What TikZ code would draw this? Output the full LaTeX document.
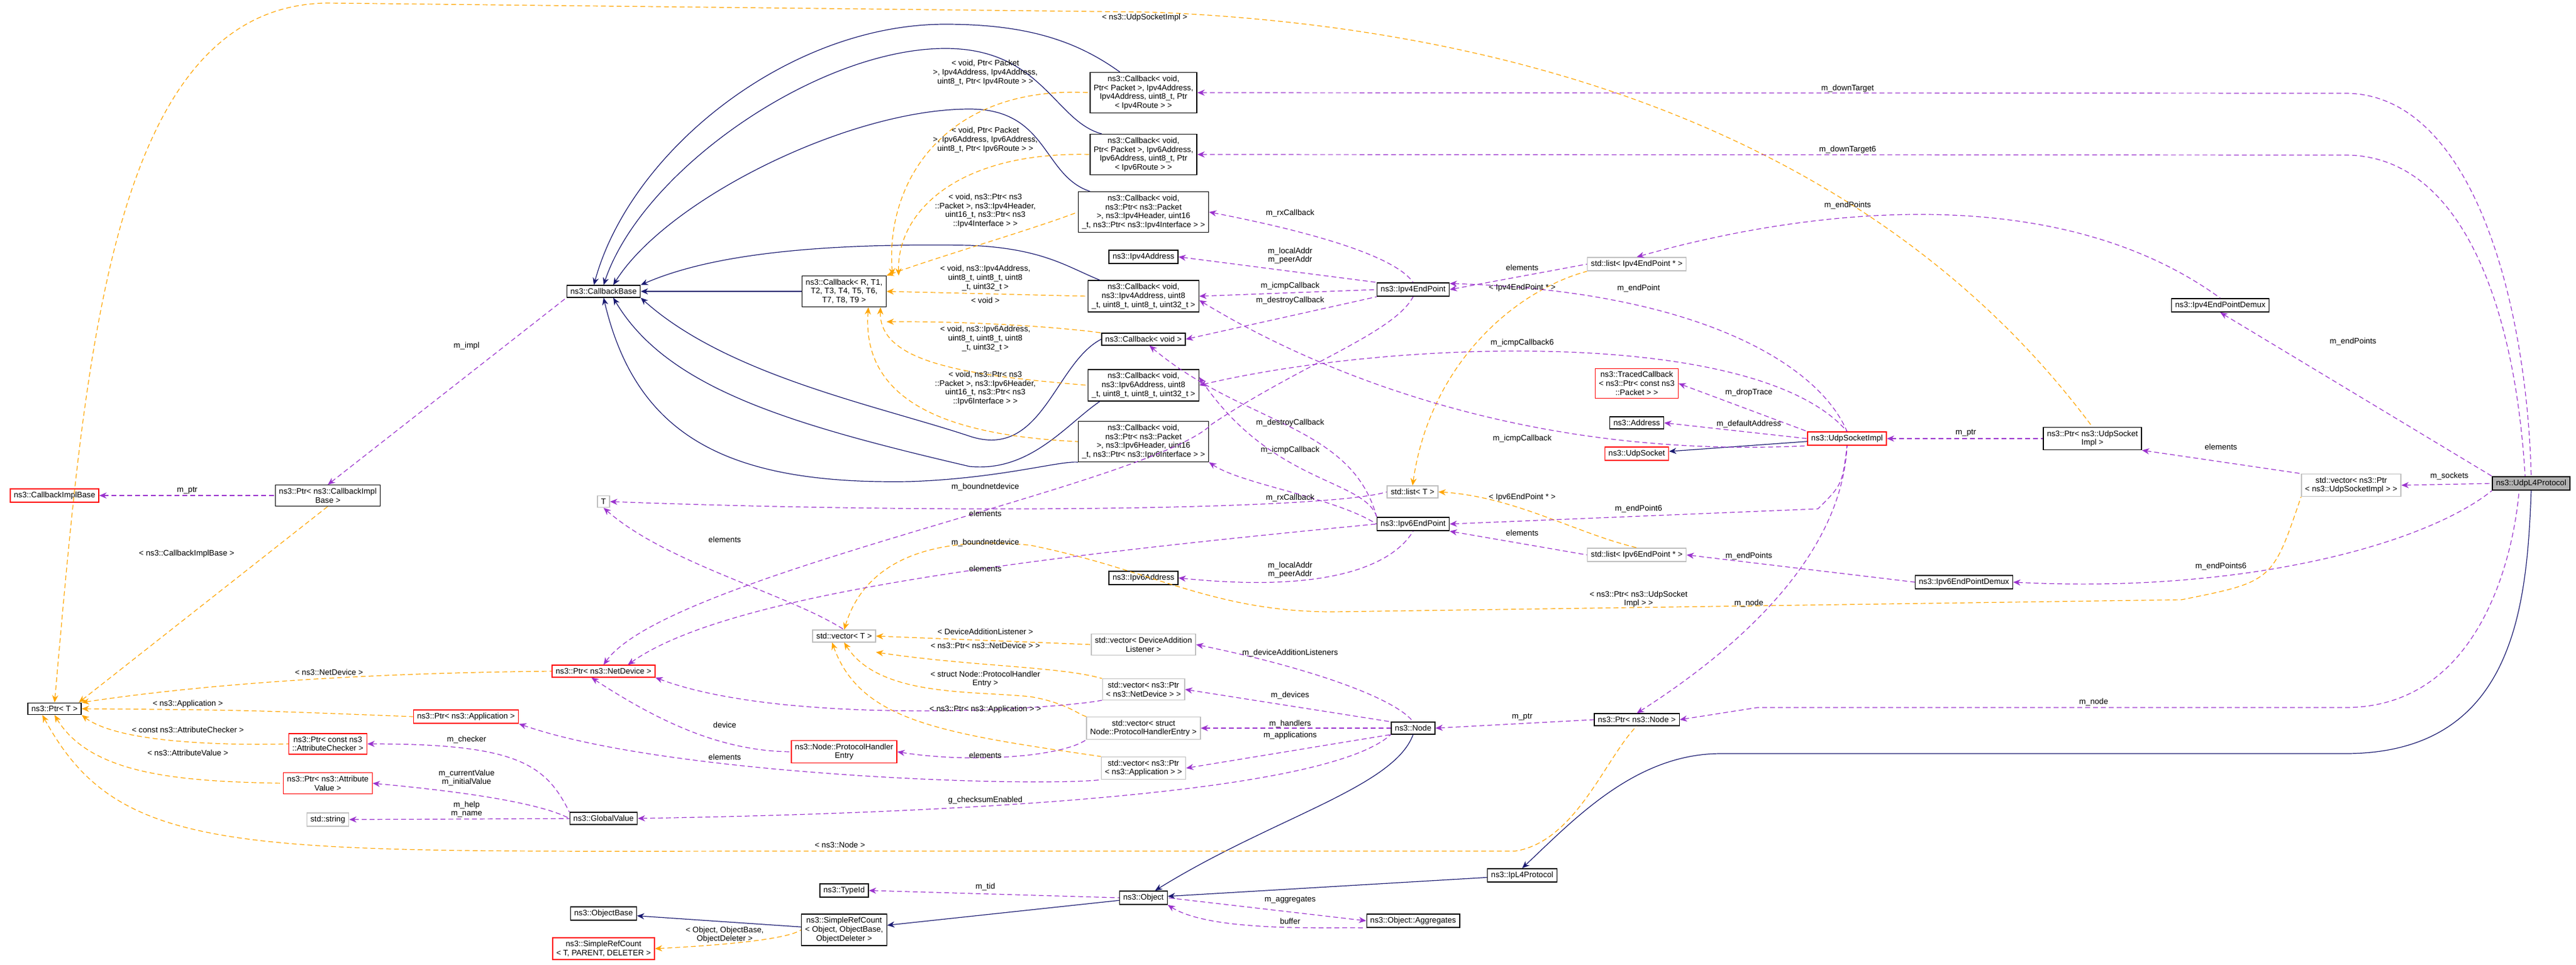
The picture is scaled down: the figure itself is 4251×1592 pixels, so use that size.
\documentclass[tikz,border=0pt]{standalone}
\usepackage{fontspec}
\setmainfont{Liberation Sans}
\usetikzlibrary{arrows.meta}
\definecolor{navy}{HTML}{191970}
\definecolor{purp}{HTML}{9A32CD}
\definecolor{orng}{HTML}{FFA500}
\definecolor{grayb}{HTML}{BFBFBF}
\tikzset{
 box/.style={draw=black,line width=0.7pt,fill=white,align=center,inner xsep=3pt,inner ysep=2.5pt,font=\fontsize{6.6}{7.4}\selectfont},
 rbox/.style={box,draw=red},
 gbox/.style={box,draw=grayb},
 lbl/.style={align=center,font=\fontsize{6.6}{7.4}\selectfont,inner sep=1pt},
 inh/.style={draw=navy,line width=0.6pt,{Stealth[length=6pt,width=5pt]}-},
 use/.style={draw=purp,line width=0.6pt,dash pattern=on 4pt off 2.5pt,{Stealth[length=6pt,width=5pt]}-},
 tmpl/.style={draw=orng,line width=0.6pt,dash pattern=on 4pt off 2.5pt,{Stealth[length=6pt,width=5pt]}-}
}
\begin{document}
\begin{tikzpicture}[x=0.5pt,y=-0.5pt]
\useasboundingbox (0,0) rectangle (4251,1592);
% nodes
\node[box] (cbb) at (996,481) {ns3::CallbackBase};
\node[box] (cbt) at (1393,481) {ns3::Callback< R, T1,\\ T2, T3, T4, T5, T6,\\ T7, T8, T9 >};
\node[box] (pcib) at (541,818) {ns3::Ptr< ns3::CallbackImpl\\Base >};
\node[rbox] (cib) at (90,818) {ns3::CallbackImplBase};
\node[box] (pt) at (90,1170) {ns3::Ptr< T >};
\node[rbox] (pnd) at (996,1108) {ns3::Ptr< ns3::NetDevice >};
\node[rbox] (papp) at (769,1183) {ns3::Ptr< ns3::Application >};
\node[rbox] (pchk) at (541,1228) {ns3::Ptr< const ns3\\::AttributeChecker >};
\node[rbox] (pav) at (541,1293) {ns3::Ptr< ns3::Attribute\\Value >};
\node[gbox] (str) at (541,1353) {std::string};
\node[box] (gv) at (996,1351) {ns3::GlobalValue};
\node[gbox] (tT) at (996,828) {T};
\node[box] (ob) at (996,1508) {ns3::ObjectBase};
\node[rbox] (srt) at (996,1566) {ns3::SimpleRefCount\\< T, PARENT, DELETER >};
\node[gbox] (vT) at (1393,1050) {std::vector< T >};
\node[rbox] (phe) at (1393,1241) {ns3::Node::ProtocolHandler\\Entry};
\node[box] (tid) at (1393,1470) {ns3::TypeId};
\node[box] (sro) at (1393,1535) {ns3::SimpleRefCount\\< Object, ObjectBase,\\ ObjectDeleter >};
\node[gbox] (lT) at (2331,812) {std::list< T >};
\node[box] (ep6) at (2332,865) {ns3::Ipv6EndPoint};
\node[gbox] (l6) at (2701,916) {std::list< Ipv6EndPoint * >};
\node[box] (a6) at (1887,954) {ns3::Ipv6Address};
\node[gbox] (vdal) at (1887,1064) {std::vector< DeviceAddition\\Listener >};
\node[gbox] (vnd) at (1887,1138) {std::vector< ns3::Ptr\\< ns3::NetDevice > >};
\node[gbox] (vphe) at (1887,1202) {std::vector< struct\\ Node::ProtocolHandlerEntry >};
\node[gbox] (vapp) at (1887,1268) {std::vector< ns3::Ptr\\< ns3::Application > >};
\node[box] (node) at (2332,1202) {ns3::Node};
\node[box] (pnode) at (2701,1188) {ns3::Ptr< ns3::Node >};
\node[box] (obj) at (1887,1482) {ns3::Object};
\node[box] (agg) at (2332,1520) {ns3::Object::Aggregates};
\node[box] (il4) at (2512,1445) {ns3::IpL4Protocol};
\node[box] (cb1) at (1887,153) {ns3::Callback< void,\\ Ptr< Packet >, Ipv4Address,\\ Ipv4Address, uint8\_t, Ptr\\< Ipv4Route > >};
\node[box] (cb2) at (1887,255) {ns3::Callback< void,\\ Ptr< Packet >, Ipv6Address,\\ Ipv6Address, uint8\_t, Ptr\\< Ipv6Route > >};
\node[box] (cb3) at (1887,350) {ns3::Callback< void,\\ ns3::Ptr< ns3::Packet\\ >, ns3::Ipv4Header, uint16\\\_t, ns3::Ptr< ns3::Ipv4Interface > >};
\node[box] (a4) at (1887,424) {ns3::Ipv4Address};
\node[box] (cb4) at (1887,489) {ns3::Callback< void,\\ ns3::Ipv4Address, uint8\\\_t, uint8\_t, uint8\_t, uint32\_t >};
\node[box] (cbv) at (1887,560) {ns3::Callback< void >};
\node[box] (cb6) at (1887,636) {ns3::Callback< void,\\ ns3::Ipv6Address, uint8\\\_t, uint8\_t, uint8\_t, uint32\_t >};
\node[box] (cb7) at (1887,729) {ns3::Callback< void,\\ ns3::Ptr< ns3::Packet\\ >, ns3::Ipv6Header, uint16\\\_t, ns3::Ptr< ns3::Ipv6Interface > >};
\node[box] (ep4) at (2332,478) {ns3::Ipv4EndPoint};
\node[gbox] (l4) at (2701,436) {std::list< Ipv4EndPoint * >};
\node[rbox] (tc) at (2701,633) {ns3::TracedCallback\\< ns3::Ptr< const ns3\\::Packet > >};
\node[box] (addr) at (2701,698) {ns3::Address};
\node[rbox] (us) at (2701,749) {ns3::UdpSocket};
\node[box] (d4) at (3664,504) {ns3::Ipv4EndPointDemux};
\node[rbox] (usi) at (3048,724) {ns3::UdpSocketImpl};
\node[box] (pus) at (3453,724) {ns3::Ptr< ns3::UdpSocket\\Impl >};
\node[box] (d6) at (3241,961) {ns3::Ipv6EndPointDemux};
\node[gbox] (vus) at (3880,801) {std::vector< ns3::Ptr\\< ns3::UdpSocketImpl > >};
\node[box,fill=black!30] (udp) at (4177,798) {ns3::UdpL4Protocol};

% inheritance
\draw[inh] (cbb) -- (cbt);
\draw[inh] ([xshift=-8]cbb.north) .. controls (1040,250) and (1300,40) .. (1560,40) .. controls (1700,40) and (1780,70) .. ([xshift=25]cb1.north west);
\draw[inh] (cbb.north) .. controls (1060,280) and (1350,80) .. (1560,80) .. controls (1720,80) and (1740,200) .. ([xshift=10]cb2.north west);
\draw[inh] ([xshift=8]cbb.north) .. controls (1100,330) and (1400,180) .. (1600,180) .. controls (1730,180) and (1720,290) .. ([xshift=10]cb3.north west);
\draw[inh] (cbb.north east) .. controls (1150,430) and (1300,400) .. (1600,405) .. controls (1720,410) and (1760,440) .. ([xshift=10]cb4.north west);
\draw[inh] (cbb.south east) .. controls (1200,620) and (1450,670) .. (1600,720) .. controls (1720,760) and (1740,600) .. (cbv.west);
\draw[inh] ([xshift=8]cbb.south) .. controls (1100,640) and (1300,700) .. (1600,770) .. controls (1700,780) and (1760,700) .. ([xshift=10]cb6.south west);
\draw[inh] (cbb.south) .. controls (1050,720) and (1200,800) .. (1500,795) .. controls (1650,790) and (1750,760) .. (cb7.south west);
\draw[inh] (ob) -- (sro);
\draw[inh] (sro) -- (obj);
\draw[inh] (obj) .. controls (2100,1350) and (2300,1300) .. (node.south);
\draw[inh] (obj) -- (il4);
\draw[inh] (il4.north) .. controls (2600,1350) and (2700,1244) .. (2840,1244) -- (3870,1244) .. controls (4150,1244) and (4170,1000) .. (udp.south);
\draw[inh] (us) -- (usi);

% template instantiation
\draw[tmpl] ([xshift=40]cbt.north) .. controls (1460,300) and (1560,140) .. (cb1.west);
\draw[tmpl] ([xshift=45]cbt.north) .. controls (1480,350) and (1580,250) .. (cb2.west);
\draw[tmpl] (cbt.north east) .. controls (1560,420) and (1700,380) .. (cb3.west);
\draw[tmpl] (cbt.east) -- (cb4.west);
\draw[tmpl] ([yshift=-12]cbt.south east) .. controls (1600,530) and (1750,540) .. (cbv.north west);
\draw[tmpl] ([xshift=30]cbt.south) .. controls (1450,600) and (1600,620) .. (cb6.west);
\draw[tmpl] ([xshift=20]cbt.south) .. controls (1420,680) and (1600,720) .. (cb7.west);
\draw[tmpl] (pt.north) .. controls (140,600) and (180,10) .. (540,5) -- (1900,20) .. controls (2900,60) and (3300,500) .. (pus.north);
\draw[tmpl] ([xshift=20]pt.north) -- (pcib.south);
\draw[tmpl] (pt.north east) .. controls (400,1120) and (700,1110) .. (pnd.west);
\draw[tmpl] (pt.east) .. controls (400,1172) .. (papp.west);
\draw[tmpl] (pt.south east) .. controls (200,1230) and (400,1230) .. (pchk.west);
\draw[tmpl] (pt.south) .. controls (150,1280) and (300,1290) .. (pav.west);
\draw[tmpl] ([xshift=-10]pt.south) .. controls (200,1420) and (400,1405) .. (1300,1405) -- (2500,1405) .. controls (2600,1390) and (2650,1250) .. (pnode.south);
\draw[tmpl] (vT.north) .. controls (1420,950) and (1500,880) .. (1700,900) .. controls (1900,940) and (2000,1010) .. (2200,1010) -- (3600,990) .. controls (3750,960) .. (vus.south west);
\draw[tmpl] (vT.east) -- (vdal.west);
\draw[tmpl] ([yshift=-8]vT.south east) .. controls (1600,1100) and (1750,1100) .. (vnd.north west);
\draw[tmpl] (vT.south) .. controls (1450,1150) and (1600,1140) .. (1700,1150) .. controls (1760,1160) and (1780,1180) .. (vphe.north west);
\draw[tmpl] ([xshift=-10]vT.south) .. controls (1420,1190) and (1550,1210) .. (vapp.north west);
\draw[tmpl] (lT.north) .. controls (2360,600) and (2500,480) .. (l4.south west);
\draw[tmpl] (lT.east) .. controls (2500,820) and (2600,880) .. (l6.north);
\draw[tmpl] (srt.east) .. controls (1200,1560) and (1300,1550) .. (sro.west);

% usage
\draw[use] (cib) -- (pcib);
\draw[use] (pcib.north) -- (cbb.south west);
\draw[use] (tT.east) .. controls (1600,850) and (2200,840) .. (lT.west);
\draw[use] (tT.south) .. controls (1100,930) and (1300,980) .. (vT.north);
\draw[use] (pnd.north) .. controls (1100,950) and (1900,800) .. (2000,700) .. controls (2150,600) and (2300,550) .. (ep4.south);
\draw[use] ([xshift=20]pnd.north) .. controls (1200,980) and (1700,920) .. (ep6.west);
\draw[use] (pnd.south east) .. controls (1300,1200) and (1750,1170) .. (vnd.south west);
\draw[use] ([xshift=-10]pnd.south) .. controls (1100,1200) and (1200,1240) .. (phe.west);
\draw[use] (papp.south east) .. controls (1100,1280) and (1700,1300) .. (vapp.south west);
\draw[use] (phe.east) .. controls (1600,1260) and (1750,1250) .. (vphe.south west);
\draw[use] (pchk.east) .. controls (850,1228) and (900,1260) .. (gv.north west);
\draw[use] (pav.east) .. controls (800,1310) and (900,1330) .. (gv.west);
\draw[use] (str) -- (gv);
\draw[use] (gv.east) .. controls (1700,1340) and (2200,1300) .. (node.south west);
\draw[use] (cb1.east) -- (3870,154) .. controls (4080,154) and (4170,500) .. (udp.north);
\draw[use] (cb2.east) -- (3870,256) .. controls (4060,256) and (4150,500) .. ([xshift=-5]udp.north);
\draw[use] (cb3.east) .. controls (2150,380) and (2300,420) .. (ep4.north);
\draw[use] (a4.east) -- (ep4.north west);
\draw[use] (cb4.east) -- (ep4.west);
\draw[use] (cbv.east) -- (ep4.south west);
\draw[use] ([yshift=10]cb4.south east) .. controls (2150,600) and (2500,760) .. (usi.south west);
\draw[use] (cb6.east) .. controls (2300,560) and (2900,540) .. (usi.north);
\draw[use] ([xshift=-30]cbv.south east) .. controls (2050,700) and (2230,700) .. (ep6.north west);
\draw[use] (cb7.south east) .. controls (2050,800) and (2200,820) .. (ep6.west);
\draw[use] ([yshift=20]cb6.south east) .. controls (2100,800) and (2250,790) .. ([xshift=-30]ep6.north);
\draw[use] (a6.east) .. controls (2200,980) and (2300,930) .. (ep6.south);
\draw[use] (ep4.east) -- (l4.west);
\draw[use] ([yshift=5]ep4.east) .. controls (2800,480) and (3000,600) .. (usi.north);
\draw[use] (ep6.east) -- (3000,840) .. controls (3040,800) .. (usi.south);
\draw[use] (ep6.south east) -- (l6.west);
\draw[use] (l4.north) .. controls (3000,340) and (3400,300) .. (d4.north);
\draw[use] (l6.east) -- (d6.west);
\draw[use] (d4.south) -- (udp.north west);
\draw[use] (d6.east) .. controls (3700,980) and (4000,900) .. (udp.south west);
\draw[use] (tc.east) -- (usi.north west);
\draw[use] (addr.east) -- (usi.west);
\draw[use] (pnode.north) .. controls (2900,1050) and (3040,900) .. (usi.south);
\draw[use] (pnode.east) -- (2900,1168) -- (3870,1168) .. controls (4100,1168) and (4150,900) .. ([xshift=-10]udp.south);
\draw[use] (node.east) -- (pnode.west);
\draw[use] (usi.east) -- (pus.west);
\draw[use] (pus.south east) -- (vus.north west);
\draw[use] (vus.east) -- (udp.west);
\draw[use] (vdal.east) .. controls (2150,1100) and (2300,1150) .. (node.north);
\draw[use] (vnd.east) -- (node.north west);
\draw[use] (vphe.east) -- (node.west);
\draw[use] (vapp.east) -- (node.south west);
\draw[use] (tid.east) -- (obj.west);
\draw[use] (agg.west) -- (obj.east);
\draw[use] (obj.south east) .. controls (2000,1540) and (2200,1530) .. (agg.south west);

% labels
\node[lbl] at (770,571) {m\_impl};
\node[lbl] at (309,810) {m\_ptr};
\node[lbl] at (308,914) {< ns3::CallbackImplBase >};
\node[lbl] at (543,1110) {< ns3::NetDevice >};
\node[lbl] at (310,1162) {< ns3::Application >};
\node[lbl] at (310,1205) {< const ns3::AttributeChecker >};
\node[lbl] at (310,1243) {< ns3::AttributeValue >};
\node[lbl] at (770,1221) {m\_checker};
\node[lbl] at (770,1284) {m\_currentValue\\m\_initialValue};
\node[lbl] at (770,1336) {m\_help\\m\_name};
\node[lbl] at (1196,891) {elements};
\node[lbl] at (1196,1197) {device};
\node[lbl] at (1196,1250) {elements};
\node[lbl] at (1196,1543) {< Object, ObjectBase,\\ ObjectDeleter >};
\node[lbl] at (1386,1395) {< ns3::Node >};
\node[lbl] at (1889,29) {< ns3::UdpSocketImpl >};
\node[lbl] at (1626,120) {< void, Ptr< Packet\\ >, Ipv4Address, Ipv4Address,\\ uint8\_t, Ptr< Ipv4Route > >};
\node[lbl] at (1626,231) {< void, Ptr< Packet\\ >, Ipv6Address, Ipv6Address,\\ uint8\_t, Ptr< Ipv6Route > >};
\node[lbl] at (1626,348) {< void, ns3::Ptr< ns3\\::Packet >, ns3::Ipv4Header,\\ uint16\_t, ns3::Ptr< ns3\\::Ipv4Interface > >};
\node[lbl] at (1626,459) {< void, ns3::Ipv4Address,\\ uint8\_t, uint8\_t, uint8\\\_t, uint32\_t >};
\node[lbl] at (1626,496) {< void >};
\node[lbl] at (1626,559) {< void, ns3::Ipv6Address,\\ uint8\_t, uint8\_t, uint8\\\_t, uint32\_t >};
\node[lbl] at (1626,641) {< void, ns3::Ptr< ns3\\::Packet >, ns3::Ipv6Header,\\ uint16\_t, ns3::Ptr< ns3\\::Ipv6Interface > >};
\node[lbl] at (2129,352) {m\_rxCallback};
\node[lbl] at (2129,422) {m\_localAddr\\m\_peerAddr};
\node[lbl] at (2512,442) {elements};
\node[lbl] at (2129,472) {m\_icmpCallback};
\node[lbl] at (2512,475) {< Ipv4EndPoint * >};
\node[lbl] at (2704,476) {m\_endPoint};
\node[lbl] at (2129,496) {m\_destroyCallback};
\node[lbl] at (2512,566) {m\_icmpCallback6};
\node[lbl] at (2129,698) {m\_destroyCallback};
\node[lbl] at (2129,743) {m\_icmpCallback};
\node[lbl] at (2512,724) {m\_icmpCallback};
\node[lbl] at (3049,146) {m\_downTarget};
\node[lbl] at (3049,247) {m\_downTarget6};
\node[lbl] at (3049,339) {m\_endPoints};
\node[lbl] at (3883,564) {m\_endPoints};
\node[lbl] at (3244,715) {m\_ptr};
\node[lbl] at (3665,738) {elements};
\node[lbl] at (2886,648) {m\_dropTrace};
\node[lbl] at (2886,700) {m\_defaultAddress};
\node[lbl] at (4042,786) {m\_sockets};
\node[lbl] at (2886,918) {m\_endPoints};
\node[lbl] at (3665,935) {m\_endPoints6};
\node[lbl] at (2886,996) {m\_node};
\node[lbl] at (3455,1159) {m\_node};
\node[lbl] at (2704,989) {< ns3::Ptr< ns3::UdpSocket\\Impl > >};
\node[lbl] at (2512,821) {< Ipv6EndPoint * >};
\node[lbl] at (2704,840) {m\_endPoint6};
\node[lbl] at (2512,880) {elements};
\node[lbl] at (2129,941) {m\_localAddr\\m\_peerAddr};
\node[lbl] at (2129,822) {m\_rxCallback};
\node[lbl] at (1626,804) {m\_boundnetdevice};
\node[lbl] at (1626,848) {elements};
\node[lbl] at (1626,896) {m\_boundnetdevice};
\node[lbl] at (1626,939) {elements};
\node[lbl] at (1626,1043) {< DeviceAdditionListener >};
\node[lbl] at (1626,1066) {< ns3::Ptr< ns3::NetDevice > >};
\node[lbl] at (1626,1121) {< struct Node::ProtocolHandler\\Entry >};
\node[lbl] at (1626,1171) {< ns3::Ptr< ns3::Application > >};
\node[lbl] at (1626,1247) {elements};
\node[lbl] at (1626,1321) {g\_checksumEnabled};
\node[lbl] at (2129,1078) {m\_deviceAdditionListeners};
\node[lbl] at (2129,1148) {m\_devices};
\node[lbl] at (2129,1195) {m\_handlers};
\node[lbl] at (2129,1214) {m\_applications};
\node[lbl] at (2512,1184) {m\_ptr};
\node[lbl] at (1626,1464) {m\_tid};
\node[lbl] at (2129,1486) {m\_aggregates};
\node[lbl] at (2129,1521) {buffer};
\end{tikzpicture}
\end{document}
